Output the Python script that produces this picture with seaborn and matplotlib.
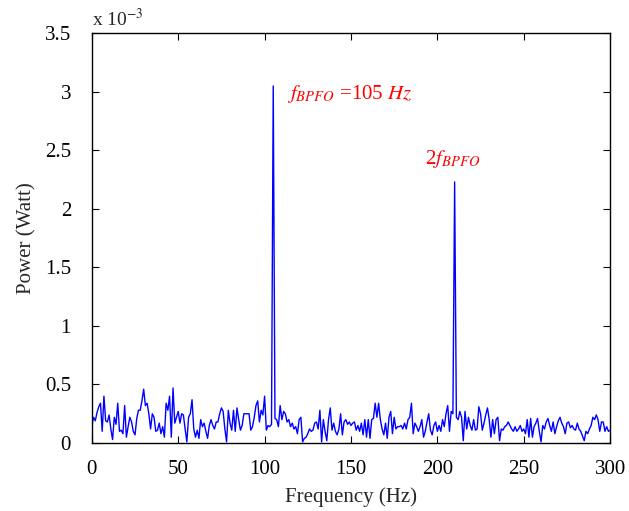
import numpy as np
import pandas as pd
import matplotlib
matplotlib.use("Agg")
import matplotlib.pyplot as plt
from matplotlib.ticker import FuncFormatter
import seaborn as sns

# spectrum values, in units of 1e-3 W, one per Hz (0..300)
power_0_47 = [0.15, 0.22, 0.19, 0.26, 0.31, 0.34, 0.10, 0.40, 0.19, 0.18,
              0.24, 0.12, 0.03, 0.22, 0.16, 0.34, 0.10, 0.11, 0.08, 0.32,
              0.05, 0.14, 0.22, 0.18, 0.10, 0.07, 0.21, 0.28, 0.28, 0.36,
              0.46, 0.32, 0.34, 0.25, 0.12, 0.25, 0.22, 0.10, 0.11, 0.17,
              0.08, 0.14, 0.05, 0.34, 0.28, 0.40, 0.05, 0.47]
power_48_99 = [0.17, 0.22, 0.27, 0.17, 0.25, 0.24, 0.12, 0.01, 0.22, 0.25,
               0.37, 0.12, 0.05, 0.11, 0.04, 0.20, 0.14, 0.17, 0.10, 0.04,
               0.15, 0.20, 0.15, 0.12, 0.18, 0.18, 0.25, 0.30, 0.27, 0.12,
               0.01, 0.28, 0.17, 0.11, 0.28, 0.10, 0.30, 0.20, 0.11, 0.15,
               0.25, 0.25, 0.25, 0.25, 0.11, 0.14, 0.22, 0.32, 0.36, 0.18,
               0.28, 0.24]
power_100_150 = [0.40, 0.11, 0.15, 0.14, 0.16, 3.05, 0.21, 0.20, 0.14, 0.32,
                 0.20, 0.27, 0.25, 0.18, 0.20, 0.14, 0.17, 0.12, 0.14, 0.08,
                 0.20, 0.22, 0.01, 0.04, 0.05, 0.08, 0.12, 0.10, 0.11, 0.17,
                 0.18, 0.12, 0.28, 0.01, 0.20, 0.10, 0.02, 0.20, 0.30, 0.11,
                 0.17, 0.10, 0.07, 0.12, 0.25, 0.07, 0.18, 0.20, 0.16, 0.18,
                 0.15]
power_151_199 = [0.17, 0.18, 0.11, 0.15, 0.10, 0.17, 0.07, 0.20, 0.05, 0.20,
                 0.04, 0.20, 0.21, 0.34, 0.22, 0.34, 0.20, 0.12, 0.07, 0.17,
                 0.04, 0.22, 0.27, 0.08, 0.22, 0.12, 0.14, 0.14, 0.15, 0.12,
                 0.17, 0.12, 0.20, 0.22, 0.34, 0.08, 0.17, 0.14, 0.10, 0.14,
                 0.20, 0.05, 0.10, 0.18, 0.25, 0.11, 0.07, 0.15, 0.18]
power_200_249 = [0.10, 0.15, 0.10, 0.20, 0.14, 0.25, 0.32, 0.10, 0.27, 0.25,
                 2.23, 0.22, 0.20, 0.27, 0.22, 0.02, 0.27, 0.12, 0.22, 0.15,
                 0.11, 0.20, 0.11, 0.12, 0.31, 0.25, 0.11, 0.17, 0.24, 0.30,
                 0.20, 0.05, 0.20, 0.08, 0.20, 0.22, 0.02, 0.12, 0.11, 0.14,
                 0.15, 0.18, 0.15, 0.12, 0.10, 0.14, 0.10, 0.12, 0.15, 0.10]
power_250_300 = [0.12, 0.08, 0.20, 0.05, 0.21, 0.05, 0.14, 0.17, 0.21, 0.10,
                 0.01, 0.15, 0.12, 0.18, 0.21, 0.15, 0.10, 0.18, 0.08, 0.14,
                 0.19, 0.22, 0.17, 0.14, 0.08, 0.17, 0.18, 0.13, 0.15, 0.12,
                 0.11, 0.17, 0.12, 0.10, 0.06, 0.02, 0.10, 0.08, 0.12, 0.15,
                 0.22, 0.20, 0.24, 0.20, 0.10, 0.18, 0.18, 0.10, 0.14, 0.10,
                 0.11]

power = power_0_47 + power_48_99 + power_100_150 + power_151_199 + power_200_249 + power_250_300
freq = np.arange(len(power))

xticks = [0, 50, 100, 150, 200, 250, 300]
yticks = [0, 0.5, 1, 1.5, 2, 2.5, 3, 3.5]

df = pd.DataFrame({"Frequency": freq, "Power": power})

sns.set_style("ticks")
plt.rcParams["font.family"] = ["Liberation Serif", "DejaVu Serif"]
plt.rcParams["mathtext.fontset"] = "stix"

fig = plt.figure(figsize=(6.29, 5.11), dpi=100)
ax = fig.add_axes([0.146, 0.133, 0.824, 0.802])

sns.lineplot(data=df, x="Frequency", y="Power", color="#0000ff", linewidth=1.0,
             estimator=None, ax=ax)

ax.set_xlim(0, 300)
ax.set_ylim(0, 3.5)
ax.set_xticks(xticks)
ax.set_yticks(yticks)
ax.yaxis.set_major_formatter(FuncFormatter(lambda v, p: "%g" % v))
ax.tick_params(direction="in", length=5, width=0.8, top=True, right=True,
               labelsize=15, colors="black")
ax.tick_params(axis="x", pad=12)
ax.tick_params(axis="y", pad=15)
for s in ax.spines.values():
    s.set_linewidth(1.0)
    s.set_color("black")

ax.set_xlabel("Frequency (Hz)", fontsize=15, labelpad=6)
ax.set_ylabel("Power (Watt)", fontsize=15, labelpad=6)

ax.text(0, 1.008, r"x 10$^{-3}$", transform=ax.transAxes, ha="left", va="bottom",
        fontsize=14)

ax.text(113, 2.98, r"$f_{BPFO}$ =105 $Hz$", color="#ff0000", fontsize=15,
        ha="left", va="center")
ax.text(193, 2.43, r"2$f_{BPFO}$", color="#ff0000", fontsize=15,
        ha="left", va="center")

fig.savefig("out.png", dpi=100)
